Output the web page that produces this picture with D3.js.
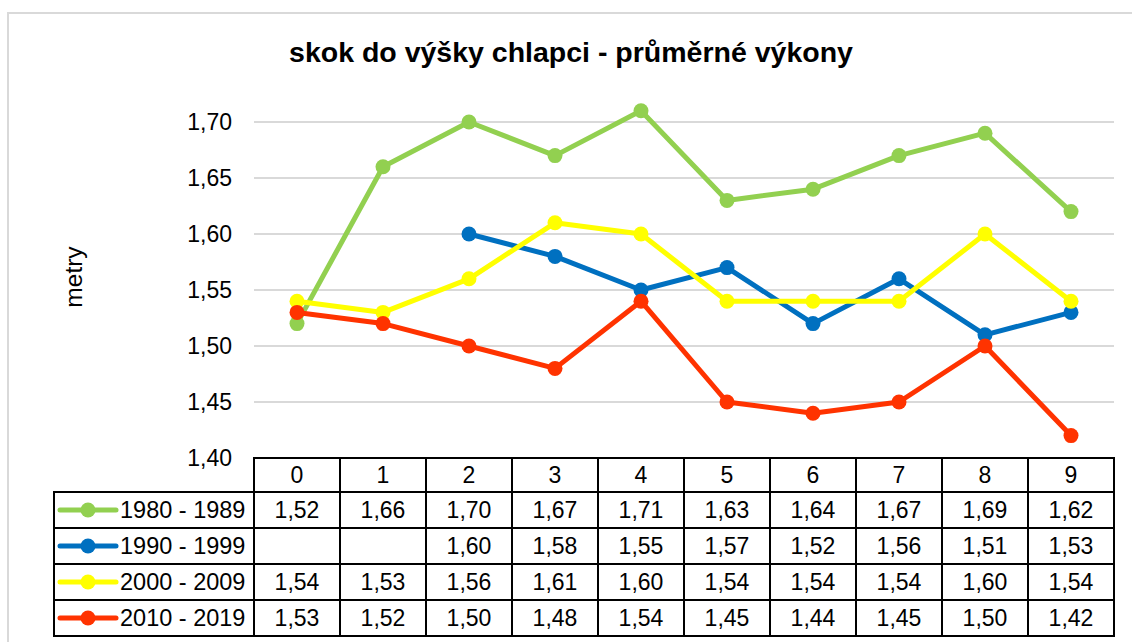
<!DOCTYPE html>
<html>
<head>
<meta charset="utf-8">
<script src="https://cdn.jsdelivr.net/npm/d3@7"></script>
<style>
  body { margin: 0; background: #fff; }
  svg { font-family: Arial, "Liberation Sans", sans-serif; }
</style>
</head>
<body>
<svg id="chart" width="1132" height="642"></svg>
<script>
const categories = ["0", "1", "2", "3", "4", "5", "6", "7", "8", "9"];
const seriesNames = ["1980 - 1989", "1990 - 1999", "2000 - 2009", "2010 - 2019"];
const seriesColors = ["#92d050", "#0070c0", "#ffff00", "#ff3300"];
const values1980 = [1.52, 1.66, 1.70, 1.67, 1.71, 1.63, 1.64, 1.67, 1.69, 1.62];
const values1990 = [null, null, 1.60, 1.58, 1.55, 1.57, 1.52, 1.56, 1.51, 1.53];
const values2000 = [1.54, 1.53, 1.56, 1.61, 1.60, 1.54, 1.54, 1.54, 1.60, 1.54];
const values2010 = [1.53, 1.52, 1.50, 1.48, 1.54, 1.45, 1.44, 1.45, 1.50, 1.42];
const yTicks = [1.40, 1.45, 1.50, 1.55, 1.60, 1.65, 1.70];

const series = seriesNames.map((name, i) => ({
    name: name,
    color: seriesColors[i],
    values: [values1980, values1990, values2000, values2010][i]
}));

const svg = d3.select("#chart");
const fmt = v => d3.format(".2f")(v).replace(".", ",");

const plotLeft = 254, plotRight = 1114, plotTop = 122, plotBottom = 458;
const headerH = 34, rowH = 36, legendLeft = 54;

// chart frame
svg.append("rect")
    .attr("x", 8).attr("y", 13)
    .attr("width", 1140).attr("height", 660)
    .attr("fill", "none").attr("stroke", "#d9d9d9").attr("stroke-width", 2);

const x = d3.scaleBand().domain(categories).range([plotLeft, plotRight]);
const y = d3.scaleLinear().domain([1.40, 1.70]).range([plotBottom, plotTop]);

// gridlines + tick labels
svg.append("g").selectAll("line")
    .data(yTicks.slice(1))
    .enter().append("line")
    .attr("x1", plotLeft).attr("x2", plotRight)
    .attr("y1", d => y(d)).attr("y2", d => y(d))
    .attr("stroke", "#d9d9d9").attr("stroke-width", 2);

svg.append("g").selectAll("text")
    .data(yTicks)
    .enter().append("text")
    .attr("x", 232).attr("y", d => y(d))
    .attr("dy", "0.35em")
    .attr("text-anchor", "end")
    .attr("font-size", 23)
    .text(fmt);

// title
svg.append("text")
    .attr("x", 571).attr("y", 62)
    .attr("text-anchor", "middle")
    .attr("font-size", 28.5).attr("font-weight", "bold")
    .text("skok do výšky chlapci - průměrné výkony");

svg.append("text")
    .attr("transform", "translate(82,277) rotate(-90)")
    .attr("text-anchor", "middle")
    .attr("font-size", 24.5)
    .text("metry");

// lines
const cx = i => x(categories[i]) + x.bandwidth() / 2;
const line = d3.line()
    .defined(d => d != null)
    .x((d, i) => cx(i))
    .y(d => y(d));

series.forEach(s => {
    svg.append("path")
        .attr("d", line(s.values))
        .attr("fill", "none")
        .attr("stroke", s.color)
        .attr("stroke-width", 5)
        .attr("stroke-linejoin", "round");
    svg.append("g").selectAll("circle")
        .data(s.values.map((v, i) => ({ v, i })).filter(d => d.v != null))
        .enter().append("circle")
        .attr("cx", d => cx(d.i))
        .attr("cy", d => y(d.v))
        .attr("r", 7.5)
        .attr("fill", s.color);
});

// data table
const table = svg.append("g");
const tableBottom = plotBottom + headerH + rowH * series.length;

// header row
table.append("rect")
    .attr("x", plotLeft).attr("y", plotBottom)
    .attr("width", plotRight - plotLeft).attr("height", headerH)
    .attr("fill", "none").attr("stroke", "#000").attr("stroke-width", 2);
table.selectAll(".hdr")
    .data(categories)
    .enter().append("text")
    .attr("x", d => x(d) + x.bandwidth() / 2)
    .attr("y", plotBottom + headerH / 2)
    .attr("dy", "0.35em")
    .attr("text-anchor", "middle")
    .attr("font-size", 23)
    .text(d => d);

series.forEach((s, r) => {
    const ry = plotBottom + headerH + r * rowH;
    table.append("rect")
        .attr("x", legendLeft).attr("y", ry)
        .attr("width", plotRight - legendLeft).attr("height", rowH)
        .attr("fill", "none").attr("stroke", "#000").attr("stroke-width", 2);
    // legend key
    table.append("line")
        .attr("x1", 60).attr("x2", 116)
        .attr("y1", ry + rowH / 2).attr("y2", ry + rowH / 2)
        .attr("stroke", s.color).attr("stroke-width", 5)
        .attr("stroke-linecap", "round");
    table.append("circle")
        .attr("cx", 88).attr("cy", ry + rowH / 2)
        .attr("r", 7.5).attr("fill", s.color);
    table.append("text")
        .attr("x", 120).attr("y", ry + rowH / 2)
        .attr("dy", "0.35em")
        .attr("font-size", 23.5)
        .text(s.name);
    table.selectAll(null)
        .data(s.values.map((v, i) => ({ v, i })).filter(d => d.v != null))
        .enter().append("text")
        .attr("x", d => cx(d.i))
        .attr("y", ry + rowH / 2)
        .attr("dy", "0.35em")
        .attr("text-anchor", "middle")
        .attr("font-size", 23)
        .text(d => fmt(d.v));
});

// column separators
table.selectAll(".col")
    .data(categories)
    .enter().append("line")
    .attr("x1", d => x(d)).attr("x2", d => x(d))
    .attr("y1", plotBottom).attr("y2", tableBottom)
    .attr("stroke", "#000").attr("stroke-width", 2);
</script>
</body>
</html>
